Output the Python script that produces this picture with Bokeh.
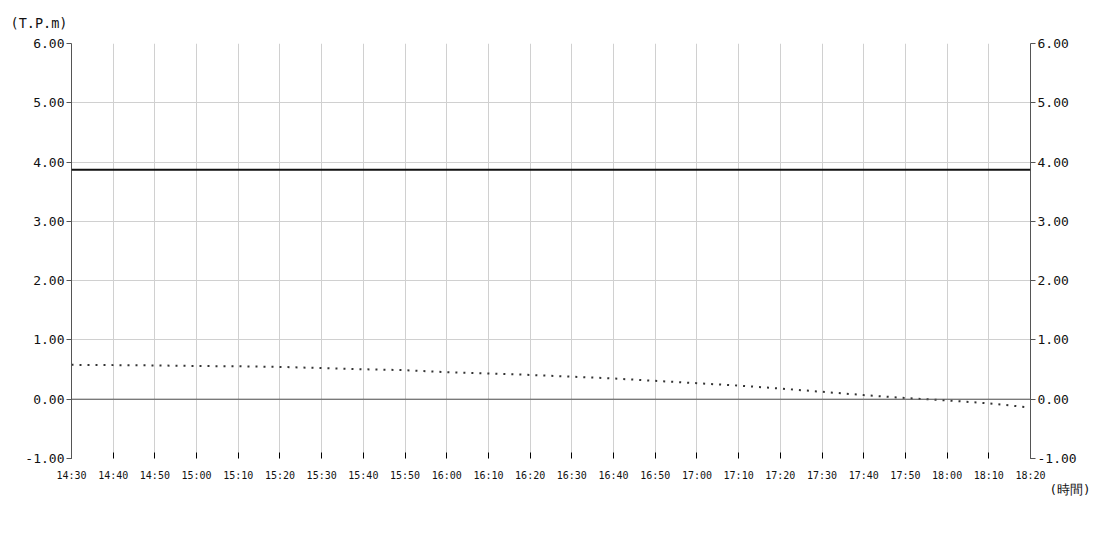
from bokeh.plotting import figure
from bokeh.models import LinearAxis, FixedTicker, Span, Title, Range1d
from bokeh.embed import file_html
from bokeh.resources import INLINE

times = ["14:30", "14:40", "14:50", "15:00", "15:10", "15:20", "15:30", "15:40",
         "15:50", "16:00", "16:10", "16:20", "16:30", "16:40", "16:50", "17:00",
         "17:10", "17:20", "17:30", "17:40", "17:50", "18:00", "18:10", "18:20"]
tide = [0.58, 0.575, 0.57, 0.56, 0.555, 0.545, 0.525, 0.505,
        0.49, 0.455, 0.435, 0.41, 0.38, 0.35, 0.31, 0.27,
        0.23, 0.18, 0.125, 0.07, 0.02, -0.02, -0.07, -0.14]
alert_level = 3.87
y_ticks = [-1, 0, 1, 2, 3, 4, 5, 6]
y_unit = "(T.P.m)"
x_unit = "(時間)"

def to_min(t):
    h, m = t.split(":")
    return int(h) * 60 + int(m)

t0 = to_min(times[0])
xs = [to_min(t) - t0 for t in times]

FONT = "DejaVu Sans Mono"

p = figure(width=1092, height=520, output_backend="svg", toolbar_location=None,
           x_range=Range1d(xs[0], xs[-1]), y_range=Range1d(-1, 6),
           min_border_left=71, min_border_right=62, min_border_top=43, min_border_bottom=62,
           outline_line_color=None)

p.line(xs, tide, line_color="#333333", line_width=2, line_dash="2 6")
p.add_layout(Span(location=alert_level, dimension="width", line_color="#111111", line_width=2))
p.add_layout(Span(location=0, dimension="width", line_color="#555555", line_width=1))

# x axis
xa = p.xaxis[0]
xa.ticker = FixedTicker(ticks=xs)
xa.major_label_overrides = {x: t for x, t in zip(xs, times)}
xa.axis_line_color = None
xa.major_tick_in = 6
xa.major_tick_out = 0
xa.major_tick_line_color = "#000000"
xa.minor_tick_line_color = None
xa.major_label_standoff = 11
xa.major_label_text_font = FONT
xa.major_label_text_font_size = "10px"
xa.major_label_text_color = "#111111"

# y axes
ya = p.yaxis[0]
ra = LinearAxis()
p.add_layout(ra, "right")
for ax in (ya, ra):
    ax.ticker = FixedTicker(ticks=y_ticks)
    ax.major_label_overrides = {v: f"{v:.2f}" for v in y_ticks}
    ax.axis_line_color = "#555555"
    ax.major_tick_in = 0
    ax.major_tick_out = 5
    ax.major_tick_line_color = "#555555"
    ax.minor_tick_line_color = None
    ax.major_label_standoff = 2
    ax.major_label_text_font = FONT
    ax.major_label_text_font_size = "13px"
    ax.major_label_text_color = "#111111"

p.xgrid.ticker = FixedTicker(ticks=xs)
p.ygrid.ticker = FixedTicker(ticks=y_ticks)
p.xgrid.grid_line_color = "#d0d0d0"
p.ygrid.grid_line_color = "#d0d0d0"

p.add_layout(Title(text=y_unit, align="left", offset=-61, standoff=25,
                   text_font=FONT, text_font_size="13.5px", text_font_style="normal",
                   text_color="#111111"), "above")
xt = Title(text=x_unit, align="right", offset=-60, standoff=-4, vertical_align="top",
           text_font=FONT, text_font_size="12.5px", text_font_style="normal",
           text_color="#111111")
if "text_baseline" in Title.properties():
    xt.text_baseline = "middle"
p.add_layout(xt, "below")

open("out.html", "w").write(file_html(p, INLINE))
